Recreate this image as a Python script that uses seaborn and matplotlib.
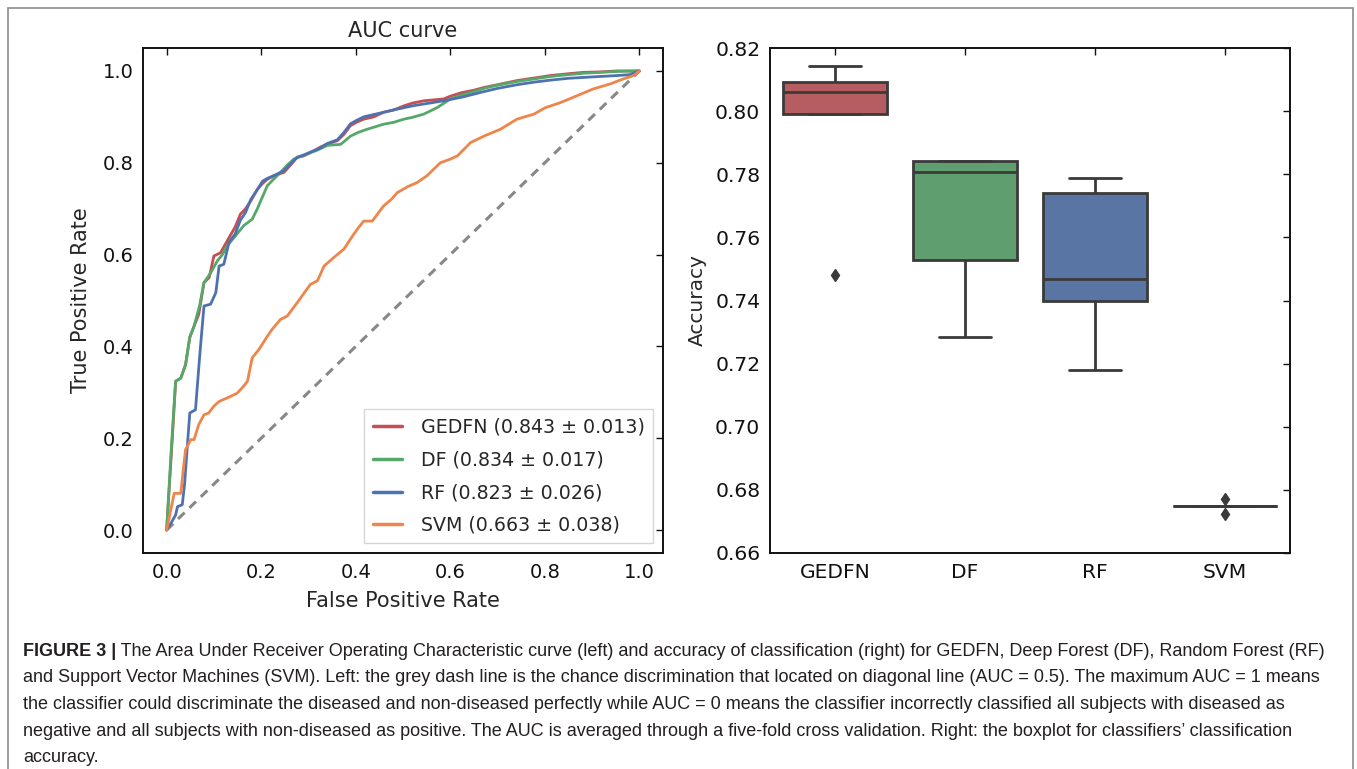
import numpy as np
import pandas as pd
import matplotlib
matplotlib.use("Agg")
import matplotlib.pyplot as plt
from matplotlib.patches import Rectangle
import seaborn as sns

# ---------------- data ----------------
models = ["GEDFN", "DF", "RF", "SVM"]
auc_labels = ["GEDFN (0.843 ± 0.013)", "DF (0.834 ± 0.017)",
              "RF (0.823 ± 0.026)", "SVM (0.663 ± 0.038)"]

gedfn_fpr = [0, 0.012, 0.019, 0.03, 0.04, 0.049, 0.058, 0.068, 0.079, 0.09, 0.1, 0.114, 0.132, 0.145,
             0.156, 0.167, 0.178, 0.192, 0.203, 0.213, 0.227, 0.248, 0.262, 0.276, 0.29, 0.311, 0.325,
             0.340, 0.361, 0.375, 0.389, 0.403, 0.417, 0.438, 0.459, 0.48, 0.502, 0.52, 0.544, 0.565,
             0.586, 0.60, 0.625, 0.65, 0.671, 0.70, 0.741, 0.78, 0.812, 0.85, 0.882, 0.92, 0.953, 0.98, 1.0]
gedfn_tpr = [0, 0.20, 0.324, 0.331, 0.36, 0.42, 0.444, 0.47, 0.539, 0.55, 0.597, 0.604, 0.637, 0.66,
             0.688, 0.70, 0.717, 0.742, 0.755, 0.764, 0.772, 0.779, 0.795, 0.812, 0.815, 0.826, 0.834,
             0.841, 0.848, 0.862, 0.881, 0.889, 0.895, 0.900, 0.910, 0.915, 0.924, 0.93, 0.935, 0.937,
             0.939, 0.945, 0.953, 0.958, 0.964, 0.970, 0.979, 0.985, 0.990, 0.994, 0.997, 0.998, 1.0, 1.0, 1.0]

df_fpr = [0, 0.01, 0.019, 0.03, 0.04, 0.049, 0.058, 0.07, 0.079, 0.093, 0.107, 0.118, 0.128, 0.145,
          0.163, 0.181, 0.192, 0.199, 0.213, 0.227, 0.241, 0.255, 0.269, 0.297, 0.32, 0.34, 0.368,
          0.389, 0.405, 0.424, 0.44, 0.459, 0.48, 0.502, 0.52, 0.544, 0.572, 0.59, 0.60, 0.625, 0.65,
          0.671, 0.70, 0.741, 0.78, 0.812, 0.85, 0.882, 0.92, 0.953, 1.0]
df_tpr = [0, 0.18, 0.324, 0.331, 0.36, 0.42, 0.444, 0.49, 0.539, 0.56, 0.586, 0.60, 0.619, 0.64,
          0.663, 0.677, 0.70, 0.717, 0.750, 0.765, 0.779, 0.795, 0.808, 0.819, 0.828, 0.838, 0.840,
          0.858, 0.866, 0.873, 0.878, 0.884, 0.888, 0.895, 0.899, 0.906, 0.920, 0.932, 0.939, 0.948, 0.955,
          0.962, 0.969, 0.977, 0.983, 0.988, 0.992, 0.995, 0.997, 0.999, 1.0]

rf_fpr = [0, 0.012, 0.019, 0.023, 0.033, 0.038, 0.045, 0.049, 0.061, 0.07, 0.079, 0.093, 0.104, 0.111,
          0.121, 0.132, 0.145, 0.156, 0.167, 0.178, 0.192, 0.203, 0.213, 0.227, 0.248, 0.262, 0.276,
          0.29, 0.311, 0.325, 0.340, 0.361, 0.375, 0.389, 0.403, 0.417, 0.438, 0.459, 0.48, 0.502, 0.52,
          0.544, 0.586, 0.625, 0.671, 0.70, 0.741, 0.78, 0.812, 0.85, 0.9, 0.953, 0.98, 1.0]
rf_tpr = [0, 0.02, 0.033, 0.051, 0.055, 0.1, 0.2, 0.255, 0.262, 0.38, 0.488, 0.492, 0.517, 0.575,
          0.579, 0.627, 0.645, 0.675, 0.692, 0.72, 0.742, 0.76, 0.766, 0.772, 0.783, 0.797, 0.812,
          0.817, 0.826, 0.832, 0.842, 0.850, 0.866, 0.885, 0.893, 0.900, 0.905, 0.910, 0.915, 0.920, 0.924,
          0.928, 0.935, 0.943, 0.955, 0.962, 0.970, 0.976, 0.980, 0.984, 0.987, 0.990, 0.992, 1.0]

svm_fpr = [0, 0.008, 0.016, 0.03, 0.035, 0.04, 0.051, 0.058, 0.068, 0.079, 0.089, 0.1, 0.111, 0.135,
           0.149, 0.16, 0.171, 0.181, 0.195, 0.213, 0.223, 0.241, 0.255, 0.276, 0.29, 0.304, 0.319,
           0.333, 0.354, 0.375, 0.389, 0.403, 0.417, 0.435, 0.459, 0.475, 0.488, 0.51, 0.530, 0.551,
           0.565, 0.579, 0.6, 0.615, 0.643, 0.671, 0.706, 0.741, 0.777, 0.801, 0.833, 0.868, 0.903,
           0.939, 0.967, 0.988, 1.0]
svm_tpr = [0, 0.04, 0.08, 0.08, 0.13, 0.175, 0.197, 0.197, 0.23, 0.251, 0.255, 0.27, 0.28, 0.291,
           0.298, 0.31, 0.324, 0.375, 0.393, 0.422, 0.437, 0.459, 0.466, 0.495, 0.515, 0.535, 0.543,
           0.575, 0.594, 0.612, 0.634, 0.655, 0.673, 0.673, 0.706, 0.72, 0.735, 0.748, 0.757, 0.772,
           0.786, 0.800, 0.808, 0.815, 0.844, 0.858, 0.873, 0.895, 0.906, 0.920, 0.931, 0.946, 0.961,
           0.972, 0.983, 0.990, 1.0]

chance_x = [0, 1]
chance_y = [0, 1]

# five-fold accuracies
acc_gedfn = [0.748, 0.799, 0.806, 0.8093, 0.8144]
acc_df = [0.7283, 0.7528, 0.7808, 0.7841, 0.7841]
acc_rf = [0.7181, 0.7399, 0.7468, 0.7740, 0.7789]
acc_svm = [0.6725, 0.675, 0.675, 0.675, 0.677]

line_colors = ["#C44E52", "#55A868", "#4C72B0", "#EE854A"]
box_colors = ["#C44E52", "#55A868", "#4C72B0", "#8172B2"]

# ---------------- figure ----------------
sns.set_theme(style="white")
plt.rcParams["font.family"] = ["DejaVu Sans"]

W, H = 1357, 769
fig = plt.figure(figsize=(W / 100, H / 100), dpi=100)
fig.patch.set_facecolor("white")

def frac(x0, y0, x1, y1):
    return [x0 / W, 1 - y1 / H, (x1 - x0) / W, (y1 - y0) / H]

ax1 = fig.add_axes(frac(143, 48, 663, 553))
ax2 = fig.add_axes(frac(770, 48, 1290, 553))

# ROC curves
curves = [(gedfn_fpr, gedfn_tpr), (df_fpr, df_tpr), (rf_fpr, rf_tpr), (svm_fpr, svm_tpr)]
for (fx, fy), lab, col in zip(curves, auc_labels, line_colors):
    sns.lineplot(x=fx, y=fy, ax=ax1, color=col, lw=2.0, sort=False, estimator=None, label=lab)
ax1.plot(chance_x, chance_y, color="#888888", lw=2.2, dashes=(3, 2.2), zorder=1)

ax1.set_xlim(-0.05, 1.05)
ax1.set_ylim(-0.05, 1.05)
ax1.set_xticks([0.0, 0.2, 0.4, 0.6, 0.8, 1.0])
ax1.set_yticks([0.0, 0.2, 0.4, 0.6, 0.8, 1.0])
ax1.xaxis.set_major_formatter(matplotlib.ticker.FormatStrFormatter("%.1f"))
ax1.yaxis.set_major_formatter(matplotlib.ticker.FormatStrFormatter("%.1f"))
ax1.set_xlabel("False Positive Rate", fontsize=15, labelpad=7)
ax1.set_ylabel("True Positive Rate", fontsize=15, labelpad=8)
ax1.set_title("AUC curve", fontsize=15, pad=8)
leg = ax1.legend(loc="lower right", fontsize=13.7, frameon=True, fancybox=False,
                 handlelength=1.55, handletextpad=1.0, labelspacing=0.72, borderpad=0.45)
leg.get_frame().set_edgecolor("#cccccc")
leg.get_frame().set_linewidth(1.0)
for h in leg.get_lines():
    h.set_linewidth(2.5)

# Boxplot
acc_df_long = pd.DataFrame({
    "model": np.repeat(models, 5),
    "acc": acc_gedfn + acc_df + acc_rf + acc_svm,
})
sns.boxplot(data=acc_df_long, x="model", y="acc", hue="model", order=models,
            palette=box_colors, legend=False, width=0.8, linewidth=2.0,
            linecolor="#3a3a3a", fliersize=6.5,
            flierprops=dict(marker="d", markerfacecolor="#3a3a3a", markeredgecolor="#3a3a3a"),
            ax=ax2)
ax2.set_xlim(-0.5, 3.5)
ax2.set_ylim(0.66, 0.82)
ax2.set_yticks(np.arange(0.66, 0.8201, 0.02))
ax2.yaxis.set_major_formatter(matplotlib.ticker.FormatStrFormatter("%.2f"))
ax2.set_xlabel("")
ax2.set_ylabel("Accuracy", fontsize=14.5, labelpad=6)

for ax, ls in ((ax1, 14), (ax2, 14.6)):
    ax.tick_params(axis="both", which="major", direction="in", length=5, width=1.0,
                   top=True, right=True, labelsize=ls, colors="#111111", pad=7)
    for s in ax.spines.values():
        s.set_visible(True)
        s.set_color("#111111")
        s.set_linewidth(1.4)

# Outer frame
fig.patches.append(Rectangle((8 / W, -0.05), (1353 - 8) / W, 1 - 8 / H + 0.05,
                             transform=fig.transFigure, fill=False,
                             edgecolor="#8c8c8c", lw=1.2))

# Caption
cap_color = "#231f20"
cap_font = dict(family="Liberation Sans", fontsize=12.95, color=cap_color)
baselines = [656, 682.5, 709, 735.5, 762]
lines = [
    " The Area Under Receiver Operating Characteristic curve (left) and accuracy of classification (right) for GEDFN, Deep Forest (DF), Random Forest (RF)",
    "and Support Vector Machines (SVM). Left: the grey dash line is the chance discrimination that located on diagonal line (AUC = 0.5). The maximum AUC = 1 means",
    "the classifier could discriminate the diseased and non-diseased perfectly while AUC = 0 means the classifier incorrectly classified all subjects with diseased as",
    "negative and all subjects with non-diseased as positive. The AUC is averaged through a five-fold cross validation. Right: the boxplot for classifiers\u2019 classification",
    "accuracy.",
]
x0 = 23 / W
bold = fig.text(x0, 1 - baselines[0] / H, "FIGURE 3 |", fontweight="bold", va="baseline", **cap_font)
fig.canvas.draw()
bb = bold.get_window_extent(fig.canvas.get_renderer())
fig.text(bb.x1 / W, 1 - baselines[0] / H, lines[0], va="baseline", **cap_font)
for ln, b in zip(lines[1:], baselines[1:]):
    fig.text(x0, 1 - b / H, ln, va="baseline", **cap_font)

fig.savefig("out.png", dpi=100, facecolor="white")
